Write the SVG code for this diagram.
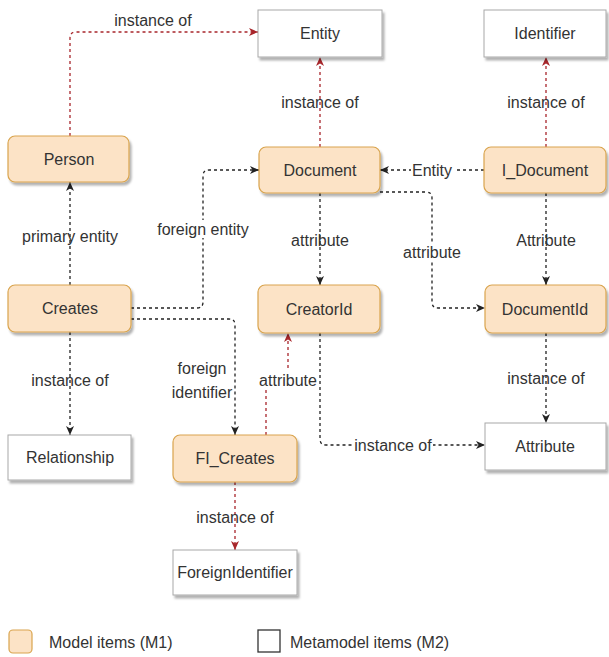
<svg xmlns="http://www.w3.org/2000/svg" width="609" height="657" viewBox="0 0 609 657">
<style>
  text { font-family: "Liberation Sans", Arial, sans-serif; font-size: 16px; fill: #333; }
  .node text, .lbl { text-anchor: middle; }
  .m1 { fill: #FCE3C6; stroke: #D9A44E; stroke-width: 1.2; }
  .m2 { fill: #FFFFFF; stroke: #A8A8A8; stroke-width: 1; }
  .blk { fill: none; stroke: #222; stroke-width: 1.3; stroke-dasharray: 3 3; marker-end: url(#ab); }
  .red { fill: none; stroke: #A8262B; stroke-width: 1.3; stroke-dasharray: 3 3; marker-end: url(#ar); }
  .bg { fill: #FFFFFF; }
</style>
<defs>
  <marker id="ab" markerUnits="userSpaceOnUse" markerWidth="10" markerHeight="10" refX="9" refY="4" orient="auto">
    <path d="M0,0 L9,4 L0,8 L2.5,4 Z" fill="#222"/>
  </marker>
  <marker id="ar" markerUnits="userSpaceOnUse" markerWidth="10" markerHeight="10" refX="9" refY="4" orient="auto">
    <path d="M0,0 L9,4 L0,8 L2.5,4 Z" fill="#A8262B"/>
  </marker>
  <filter id="sh" x="-10%" y="-10%" width="125%" height="140%">
    <feDropShadow dx="2" dy="3" stdDeviation="1.2" flood-color="#000" flood-opacity="0.3"/>
  </filter>
</defs>
<rect width="609" height="657" fill="#FFFFFF"/>

<g id="connectors">
  <!-- Person -> Entity -->
  <path class="red" d="M70,136 V38 Q70,32 76,32 H258"/>
  <text class="lbl" x="153" y="26">instance of</text>
  <!-- Document -> Entity -->
  <path class="red" d="M320,147 V57"/>
  <text class="lbl" x="320" y="108">instance of</text>
  <!-- I_Document -> Identifier -->
  <path class="red" d="M546,147 V57"/>
  <text class="lbl" x="546" y="108">instance of</text>
  <!-- I_Document -> Document -->
  <path class="blk" d="M484,170 H380"/>
  <rect class="bg" x="411" y="160" width="43" height="20"/>
  <text class="lbl" x="432" y="176">Entity</text>
  <!-- Creates -> Person -->
  <path class="blk" d="M70,285 V182"/>
  <text class="lbl" x="70" y="242">primary entity</text>
  <!-- Creates -> Document -->
  <path class="blk" d="M131,308 H197 Q203,308 203,302 V176 Q203,170 209,170 H259"/>
  <rect class="bg" x="157" y="220" width="92" height="18"/>
  <text class="lbl" x="203" y="235">foreign entity</text>
  <!-- Creates -> FI_Creates -->
  <path class="blk" d="M131,319 H229 Q235,319 235,325 V435"/>
  <text class="lbl" x="202" y="374">foreign</text>
  <text class="lbl" x="202" y="398">identifier</text>
  <!-- Creates -> Relationship -->
  <path class="blk" d="M70,332 V435"/>
  <text class="lbl" x="70" y="386">instance of</text>
  <!-- Document -> CreatorId -->
  <path class="blk" d="M320,193 V285"/>
  <text class="lbl" x="320" y="246">attribute</text>
  <!-- Document -> DocumentId -->
  <path class="blk" d="M380,192 H426 Q432,192 432,198 V302 Q432,308 438,308 H485"/>
  <rect class="bg" x="402" y="243" width="60" height="18"/>
  <text class="lbl" x="432" y="258">attribute</text>
  <!-- I_Document -> DocumentId -->
  <path class="blk" d="M546,193 V285"/>
  <text class="lbl" x="546" y="246">Attribute</text>
  <!-- DocumentId -> Attribute -->
  <path class="blk" d="M546,333 V423"/>
  <text class="lbl" x="546" y="384">instance of</text>
  <!-- CreatorId -> Attribute -->
  <path class="blk" d="M320,333 V439 Q320,445 326,445 H485"/>
  <rect class="bg" x="353" y="436" width="80" height="19"/>
  <text class="lbl" x="393" y="451">instance of</text>
  <!-- FI_Creates -> CreatorId -->
  <path class="red" d="M266,435 V386 Q266,380 272,380 H282 Q288,380 288,374 V333"/>
  <rect class="bg" x="258" y="371" width="59" height="18"/>
  <text class="lbl" x="288" y="386">attribute</text>
  <!-- FI_Creates -> ForeignIdentifier -->
  <path class="red" d="M235,482 V550"/>
  <text class="lbl" x="235" y="523">instance of</text>
</g>

<g id="entity" class="node"><rect class="m2" x="258" y="10" width="124" height="47" filter="url(#sh)"/><text x="320" y="39">Entity</text></g>
<g id="identifier" class="node"><rect class="m2" x="484" y="10" width="122" height="47" filter="url(#sh)"/><text x="545" y="39">Identifier</text></g>
<g id="person" class="node"><rect class="m1" x="8" y="136" width="121" height="46" rx="7" filter="url(#sh)"/><text x="69" y="165">Person</text></g>
<g id="document" class="node"><rect class="m1" x="259" y="147" width="121" height="46" rx="7" filter="url(#sh)"/><text x="320" y="176">Document</text></g>
<g id="i_document" class="node"><rect class="m1" x="484" y="147" width="122" height="46" rx="7" filter="url(#sh)"/><text x="545" y="176">I_Document</text></g>
<g id="creates" class="node"><rect class="m1" x="8" y="285" width="123" height="47" rx="7" filter="url(#sh)"/><text x="70" y="314">Creates</text></g>
<g id="creatorid" class="node"><rect class="m1" x="258" y="285" width="122" height="48" rx="7" filter="url(#sh)"/><text x="319" y="315">CreatorId</text></g>
<g id="documentid" class="node"><rect class="m1" x="485" y="285" width="121" height="48" rx="7" filter="url(#sh)"/><text x="545" y="315">DocumentId</text></g>
<g id="relationship" class="node"><rect class="m2" x="8" y="435" width="123" height="45" filter="url(#sh)"/><text x="70" y="463">Relationship</text></g>
<g id="fi_creates" class="node"><rect class="m1" x="173" y="435" width="124" height="47" rx="7" filter="url(#sh)"/><text x="235" y="464">FI_Creates</text></g>
<g id="attribute" class="node"><rect class="m2" x="485" y="423" width="121" height="47" filter="url(#sh)"/><text x="545" y="452">Attribute</text></g>
<g id="foreignidentifier" class="node"><rect class="m2" x="173" y="550" width="124" height="45" filter="url(#sh)"/><text x="235" y="578">ForeignIdentifier</text></g>

<g id="legend">
  <rect class="m1" x="9" y="630" width="23" height="23" rx="4"/>
  <text x="49" y="648">Model items (M1)</text>
  <rect x="258" y="630" width="22" height="22" fill="#FFFFFF" stroke="#333" stroke-width="1.3"/>
  <text x="290" y="648">Metamodel items (M2)</text>
</g>
</svg>
